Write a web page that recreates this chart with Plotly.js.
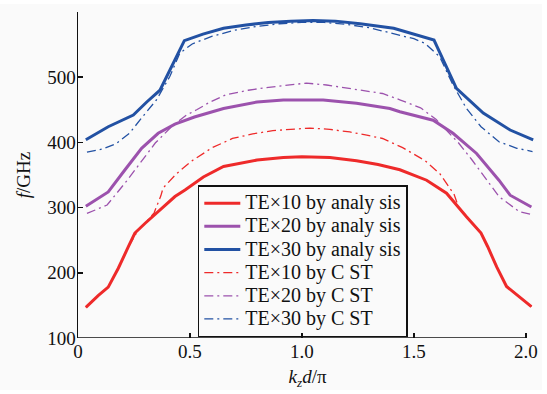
<!DOCTYPE html>
<html>
<head>
<meta charset="utf-8">
<script src="https://cdn.plot.ly/plotly-3.0.1.min.js"></script>
<style>
  html, body { margin: 0; padding: 0; background: #ffffff; }
  #chart { width: 542px; height: 386px; margin-top: 4px; }
</style>
</head>
<body>
<div id="chart"></div>
<script>
// ---- data ----
const seriesNames = ["TE×10 by analy sis", "TE×20 by analy sis", "TE×30 by analy sis",
                     "TE×10 by C ST", "TE×20 by C ST", "TE×30 by C ST"];

const redSolidX = [0.035,0.09,0.135,0.18,0.225,0.254,0.30,0.358,0.433,0.478,0.56,0.65,0.80,0.917,1.0,1.125,1.244,1.34,1.4375,1.557,1.646,1.735,1.80,1.83,1.87,1.914,1.973,2.025];
const redSolidY = [147,165,178,207,240,261,276,294,317,327,347,363,373,377,378,377,372,366,358,342,322,286,261,240,209,179,163,148];

const purpleSolidX = [0.035,0.135,0.21,0.284,0.358,0.433,0.52,0.65,0.80,0.917,1.095,1.244,1.393,1.4375,1.586,1.675,1.78,1.88,1.93,2.025];
const purpleSolidY = [302,324,358,391,414,428,439,452,462,465,465,460,452,447,434,414,383,342,319,301];

const blueSolidX = [0.035,0.135,0.247,0.307,0.366,0.475,0.558,0.65,0.75,0.85,0.95,1.05,1.15,1.26,1.41,1.50,1.59,1.69,1.81,1.93,2.033];
const blueSolidY = [404,424,442,462,480,556,566,575,580,584,586,587,586,582,575,566,557,483,445,419,404];

const redCstX = [0.035,0.09,0.135,0.18,0.225,0.27,0.30,0.34,0.37,0.38,0.44,0.51,0.60,0.69,0.78,0.87,0.95,1.036,1.125,1.214,1.29,1.36,1.45,1.55,1.616,1.68,1.70,1.735,1.80,1.83,1.87,1.914,1.973,2.025];
const redCstY = [147,165,178,207,240,266,276,292,318,330,352,372,392,406,413,418,420,422,420,416,411,406,392,372,352,320,300,286,261,240,209,179,163,148];

const purpleCstX = [0.04,0.13,0.22,0.27,0.345,0.42,0.485,0.53,0.59,0.66,0.76,0.84,0.93,1.02,1.11,1.19,1.28,1.36,1.44,1.53,1.60,1.70,1.76,1.82,1.88,1.97,2.02];
const purpleCstY = [291,304,342,365,399,425,442,450,462,473,480,484,488,491,488,484,480,475,465,453,435,399,373,345,317,294,290];

const blueCstX = [0.04,0.11,0.17,0.23,0.29,0.35,0.41,0.455,0.51,0.6,0.7,0.8,0.9,1.0,1.1,1.2,1.3,1.4,1.5,1.55,1.616,1.675,1.735,1.80,1.88,1.96,2.03];
const blueCstY = [385,390,398,414,440,465,501,537,551,563,572,578,582,584,584,581,576,568,559,552,531,488,452,424,401,391,386];

const xTickVals = [0, 0.5, 1.0, 1.5, 2.0];
const xTickText = ["0", "0.5", "1.0", "1.5", "2.0"];
const yTickVals = [100, 200, 300, 400, 500, 600];
const yTickText = ["100", "200", "300", "400", "500", "600"];

// ---- styling ----
const RED = "#ee2a2a", PURPLE = "#9c52ad", BLUE = "#2251a3";
const FONT = "Liberation Serif";
const CST_DASH = "9px,4px,2px,4px";

function label(name) {
  return '<span style="font-size:20px">' + name + '</span>';
}
function cst(x, y, name, color, rank) {
  return { x: x, y: y, name: label(name), type: "scatter", mode: "lines",
           line: { color: color, width: 1.3, dash: CST_DASH }, legendrank: rank };
}
function solid(x, y, name, color, rank) {
  return { x: x, y: y, name: label(name), type: "scatter", mode: "lines",
           line: { color: color, width: 3 }, legendrank: rank };
}

const traces = [
  cst(redCstX, redCstY, seriesNames[3], RED, 4),
  cst(purpleCstX, purpleCstY, seriesNames[4], PURPLE, 5),
  cst(blueCstX, blueCstY, seriesNames[5], BLUE, 6),
  solid(redSolidX, redSolidY, seriesNames[0], RED, 1),
  solid(purpleSolidX, purpleSolidY, seriesNames[1], PURPLE, 2),
  solid(blueSolidX, blueSolidY, seriesNames[2], BLUE, 3)
];

const layout = {
  width: 542, height: 386,
  margin: { l: 78, r: 5, t: 8, b: 52 },
  paper_bgcolor: "#fafafa",
  plot_bgcolor: "#fafafa",
  font: { family: FONT, size: 19, color: "#111" },
  showlegend: true,
  legend: {
    x: 0.261, y: 0.469, xanchor: "left", yanchor: "top",
    bgcolor: "rgba(0,0,0,0)", bordercolor: "#111", borderwidth: 1.5,
    font: { family: FONT, size: 15.5, color: "#111" },
    itemwidth: 36,
    tracegroupgap: 0, traceorder: "normal"
  },
  xaxis: {
    range: [0, 2.05], showgrid: false, zeroline: false, showline: false,
    ticks: "inside", ticklen: 5, tickwidth: 1.5, tickcolor: "#111",
    tickvals: xTickVals, ticktext: xTickText,
    tickfont: { family: FONT, size: 19, color: "#111" },
    title: { text: "<i>k</i><sub><i>z</i></sub><i>d</i>/π", font: { family: FONT, size: 19, color: "#111" }, standoff: 14 }
  },
  yaxis: {
    range: [100, 600], showgrid: false, zeroline: false, showline: true,
    linecolor: "#111", linewidth: 1.5,
    ticks: "inside", ticklen: 5, tickwidth: 1.5, tickcolor: "#111",
    tickvals: yTickVals, ticktext: yTickText,
    ticklabelstandoff: -3,
    tickfont: { family: FONT, size: 19, color: "#111" },
    title: { text: "<i>f</i>/GHz", font: { family: FONT, size: 19, color: "#111" }, standoff: 11 }
  },
  shapes: [
    { type: "line", xref: "x", yref: "y", x0: 0, x1: 2.0, y0: 100, y1: 100,
      line: { color: "#111", width: 1.5 } }
  ]
};

Plotly.newPlot("chart", traces, layout, { displayModeBar: false, staticPlot: true });
</script>
</body>
</html>
